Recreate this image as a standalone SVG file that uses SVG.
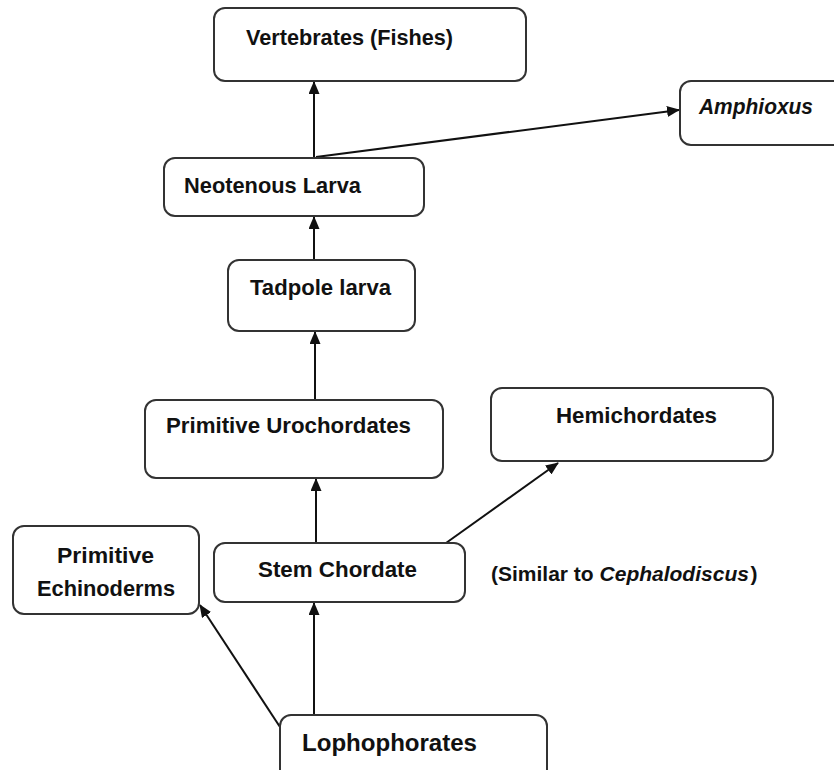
<svg xmlns="http://www.w3.org/2000/svg" width="834" height="770" viewBox="0 0 834 770">
<style>
.box{fill:#fff;stroke:#333;stroke-width:2}
.t{font-family:"Liberation Sans",Arial,sans-serif;font-weight:bold;font-size:22px;fill:#111}
.c{stroke:#111;stroke-width:2;fill:none;marker-end:url(#ah)}
</style>
<defs>
<marker id="ah" markerUnits="userSpaceOnUse" markerWidth="13" markerHeight="11" refX="12" refY="5.5" orient="auto">
<path d="M0,0 L13,5.5 L0,11 z" fill="#111"/>
</marker>
</defs>
<rect width="834" height="770" fill="#fff"/>
<g id="connectors">
<line class="c" x1="314" y1="158" x2="314" y2="82"/>
<line class="c" x1="316" y1="157" x2="679" y2="110"/>
<line class="c" x1="314" y1="260" x2="314" y2="217"/>
<line class="c" x1="315" y1="400" x2="315" y2="332"/>
<line class="c" x1="316" y1="543" x2="316" y2="479"/>
<line class="c" x1="446" y1="543" x2="558" y2="463"/>
<line class="c" x1="314" y1="715" x2="314" y2="603"/>
<line class="c" x1="280" y1="727" x2="200" y2="605"/>
</g>
<g id="vertebrates">
<rect class="box" x="214" y="8" width="312" height="73" rx="11"/>
<text class="t" x="246" y="45" textLength="207" lengthAdjust="spacingAndGlyphs">Vertebrates (Fishes)</text>
</g>
<g id="amphioxus">
<rect class="box" x="680" y="81" width="170" height="64" rx="11"/>
<text class="t" x="699" y="114" font-style="italic" textLength="114" lengthAdjust="spacingAndGlyphs">Amphioxus</text>
</g>
<g id="neotenous">
<rect class="box" x="164" y="158" width="260" height="58" rx="11"/>
<text class="t" x="184" y="193" textLength="177" lengthAdjust="spacingAndGlyphs">Neotenous Larva</text>
</g>
<g id="tadpole">
<rect class="box" x="228" y="260" width="187" height="71" rx="11"/>
<text class="t" x="250" y="295" textLength="141" lengthAdjust="spacingAndGlyphs">Tadpole larva</text>
</g>
<g id="urochordates">
<rect class="box" x="145" y="400" width="298" height="78" rx="11"/>
<text class="t" x="166" y="433" textLength="245" lengthAdjust="spacingAndGlyphs">Primitive Urochordates</text>
</g>
<g id="hemichordates">
<rect class="box" x="491" y="388" width="282" height="73" rx="11"/>
<text class="t" x="556" y="423" textLength="161" lengthAdjust="spacingAndGlyphs">Hemichordates</text>
</g>
<g id="echinoderms">
<rect class="box" x="13" y="526" width="186" height="88" rx="11"/>
<text class="t" x="57" y="563" textLength="97" lengthAdjust="spacingAndGlyphs">Primitive</text>
<text class="t" x="37" y="596" textLength="138" lengthAdjust="spacingAndGlyphs">Echinoderms</text>
</g>
<g id="stem">
<rect class="box" x="214" y="543" width="251" height="59" rx="11"/>
<text class="t" x="258" y="577" textLength="159" lengthAdjust="spacingAndGlyphs">Stem Chordate</text>
</g>
<g id="similar">
<text class="t" x="491" y="581" style="font-size:21px">(Similar to <tspan font-style="italic">Cephalodiscus</tspan><tspan dx="1.5">)</tspan></text>
</g>
<g id="lophophorates">
<rect class="box" x="280" y="715" width="267" height="70" rx="11"/>
<text class="t" x="302" y="751" style="font-size:23px" textLength="175" lengthAdjust="spacingAndGlyphs">Lophophorates</text>
</g>
</svg>
